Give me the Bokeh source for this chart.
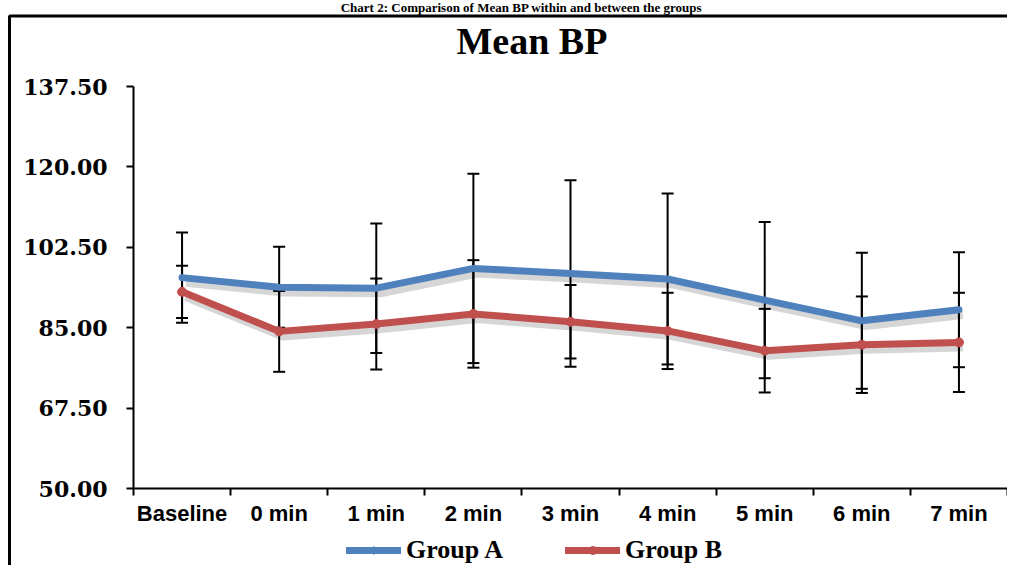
from bokeh.plotting import figure
from bokeh.models import (Range1d, FixedTicker, PrintfTickFormatter, Whisker, TeeHead,
                          ColumnDataSource, Legend, LegendItem, Label, BoxAnnotation)
from bokeh.embed import file_html
from bokeh.resources import INLINE

categories = ["Baseline", "0 min", "1 min", "2 min", "3 min", "4 min", "5 min", "6 min", "7 min"]
group_a_mean = [95.9, 93.8, 93.6, 97.9, 96.8, 95.6, 91.0, 86.5, 88.9]
group_a_sd = [9.8, 8.8, 14.1, 20.6, 20.3, 18.6, 17.0, 14.8, 12.5]
group_b_mean = [92.8, 84.2, 85.8, 88.0, 86.3, 84.3, 80.0, 81.3, 81.8]
group_b_sd = [5.7, 8.8, 9.9, 11.7, 8.0, 8.3, 9.1, 10.5, 10.8]
y_ticks = [50.0, 67.5, 85.0, 102.5, 120.0, 137.5]
caption = "Chart 2: Comparison of Mean BP within and between the groups"
chart_title = "Mean BP"

BLUE = "#4F81BD"
RED = "#C0504D"

# canvas layout (pixels): whole canvas is the plotting frame, axes are pinned inside it
W, H = 1007, 565
AX_LEFT, AX_TOP, AX_BOTTOM = 133, 86, 488
Y_MIN, Y_MAX = y_ticks[0], y_ticks[-1]
n = len(categories)
ppu = (AX_BOTTOM - AX_TOP) / (Y_MAX - Y_MIN)
x_start = -n * AX_LEFT / (W - AX_LEFT)
y_start = Y_MIN - (H - AX_BOTTOM) / ppu
y_end = Y_MAX + AX_TOP / ppu

xs = [i + 0.5 for i in range(n)]
boundaries = list(range(n + 1))

src_a = ColumnDataSource(dict(x=xs, y=group_a_mean,
                              lo=[m - s for m, s in zip(group_a_mean, group_a_sd)],
                              hi=[m + s for m, s in zip(group_a_mean, group_a_sd)]))
src_b = ColumnDataSource(dict(x=xs, y=group_b_mean,
                              lo=[m - s for m, s in zip(group_b_mean, group_b_sd)],
                              hi=[m + s for m, s in zip(group_b_mean, group_b_sd)]))
# soft drop shadow under each line (style only)
shadow_a = ColumnDataSource(dict(x=[v + 0.04 for v in xs], y=[v - 0.9 for v in group_a_mean]))
shadow_b = ColumnDataSource(dict(x=[v + 0.04 for v in xs], y=[v - 0.9 for v in group_b_mean]))

p = figure(width=W, height=H, output_backend="svg", toolbar_location=None,
           x_range=Range1d(x_start, n), y_range=Range1d(y_start, y_end),
           min_border=0, min_border_left=0, min_border_right=0, min_border_top=0, min_border_bottom=0)
p.outline_line_color = None
p.xgrid.visible = False
p.ygrid.visible = False
p.background_fill_color = "white"
p.border_fill_color = "white"

# y axis
ya = p.yaxis[0]
ya.fixed_location = 0
ya.bounds = (Y_MIN, Y_MAX)
ya.ticker = FixedTicker(ticks=y_ticks)
ya.formatter = PrintfTickFormatter(format="%.2f")
ya.major_label_text_font = "DejaVu Serif"
ya.major_label_text_font_style = "bold"
ya.major_label_text_font_size = "22px"
ya.major_label_text_color = "black"
ya.axis_line_width = 2
ya.axis_line_color = "black"
ya.major_tick_line_width = 2
ya.major_tick_in = 0
ya.major_tick_out = 7
ya.minor_tick_line_color = None
ya.major_label_standoff = 19

# x axis: labels at category centres, ticks at boundaries
xa = p.xaxis[0]
xa.fixed_location = Y_MIN
xa.bounds = (0, n)
xa.ticker = FixedTicker(ticks=xs, minor_ticks=boundaries)
xa.major_label_overrides = {x: c for x, c in zip(xs, categories)}
xa.major_label_text_font = "Liberation Sans"
xa.major_label_text_font_style = "bold"
xa.major_label_text_font_size = "22px"
xa.major_label_text_color = "black"
xa.axis_line_width = 2
xa.axis_line_color = "black"
xa.major_tick_line_color = None
xa.major_tick_in = 0
xa.major_tick_out = 7
xa.minor_tick_line_color = "black"
xa.minor_tick_line_width = 2
xa.minor_tick_in = 0
xa.minor_tick_out = 7
xa.major_label_standoff = 5

# outer chart box
box = BoxAnnotation(left=9, right=W + 50, top=H - 15.5, bottom=-50,
                    left_units="screen", right_units="screen", top_units="screen", bottom_units="screen",
                    fill_alpha=0, line_color="black", line_alpha=1.0, line_width=3)
p.add_layout(box)

cap = Label(x=521, y=H - 7, x_units="screen", y_units="screen", text=caption,
            text_align="center", text_baseline="alphabetic", text_font="Liberation Serif",
            text_font_style="bold", text_font_size="13px", text_color="black")
p.add_layout(cap)

ttl = Label(x=456, y=H - 40, x_units="screen", y_units="screen", text=chart_title,
            text_align="left", text_baseline="alphabetic", text_font="Liberation Serif",
            text_font_style="bold", text_font_size="38px", text_color="black")
p.add_layout(ttl)

# shadows
p.line("x", "y", source=shadow_a, line_color="black", line_alpha=0.16, line_width=10)
p.line("x", "y", source=shadow_b, line_color="black", line_alpha=0.16, line_width=10)

la = p.line("x", "y", source=src_a, line_color=BLUE, line_width=7, line_join="round", line_cap="round")
ma = p.scatter("x", "y", source=src_a, marker="diamond", size=6, fill_color=BLUE, line_color=BLUE)
lb = p.line("x", "y", source=src_b, line_color=RED, line_width=7, line_join="round", line_cap="round")
mb = p.scatter("x", "y", source=src_b, marker="circle", size=9, fill_color=RED, line_color=RED)

for src in (src_a, src_b):
    w = Whisker(source=src, base="x", upper="hi", lower="lo", dimension="height",
                line_color="black", line_width=2,
                upper_head=TeeHead(size=12, line_color="black", line_width=2),
                lower_head=TeeHead(size=12, line_color="black", line_width=2))
    p.add_layout(w)

legend = Legend(items=[LegendItem(label="Group A", renderers=[la, ma]),
                       LegendItem(label="Group B", renderers=[lb, mb])],
                location=(346, 0), orientation="horizontal")
legend.label_text_font = "Liberation Serif"
legend.label_text_font_style = "bold"
legend.label_text_font_size = "26px"
legend.label_text_color = "black"
legend.glyph_width = 55
legend.glyph_height = 20
legend.label_standoff = 5
legend.spacing = 62
legend.padding = 0
legend.margin = 0
legend.border_line_color = None
legend.background_fill_alpha = 0
p.add_layout(legend, "center")

open("out.html", "w").write(file_html(p, INLINE))
